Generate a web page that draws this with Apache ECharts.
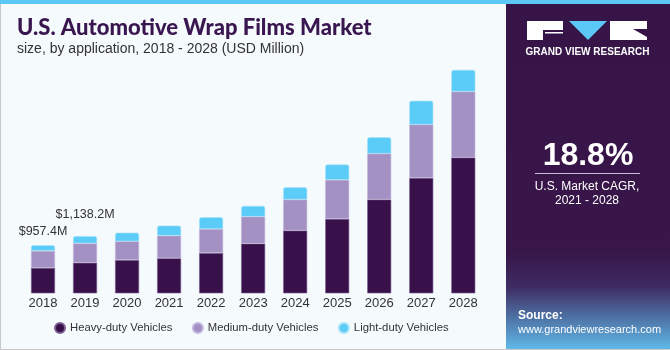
<!DOCTYPE html>
<html>
<head>
<meta charset="utf-8">
<script src="https://cdn.jsdelivr.net/npm/echarts@6/dist/echarts.min.js"></script>
<style>html,body{margin:0;padding:0;background:#f5fafd;}#c{width:670px;height:350px;}</style>
</head>
<body>
<div id="c"></div>
<script>
var years = ['2018','2019','2020','2021','2022','2023','2024','2025','2026','2027','2028'];
var heavyDuty  = [505, 608, 663, 697, 802, 989, 1248, 1481, 1865, 2296, 2700];
var mediumDuty = [338, 386, 372, 450, 478, 537, 617, 776, 915, 1061, 1313];
var lightDuty  = [114.4, 144.2, 171, 199, 233, 213, 245, 305, 325, 472, 432];
var valueLabels = ['$957.4M', '$1,138.2M', '', '', '', '', '', '', '', '', ''];
var seriesNames = ['Heavy-duty Vehicles', 'Medium-duty Vehicles', 'Light-duty Vehicles'];

var FONT = '"Liberation Sans", Arial, sans-serif';
var labelDistances = [7, 15];

var lightData = lightDuty.map(function (v, i) {
  if (!valueLabels[i]) return v;
  return {
    value: v,
    label: { show: true, position: 'top', distance: labelDistances[i] || 7, formatter: valueLabels[i],
             color: '#333', fontSize: 12.5, fontFamily: FONT }
  };
});

var chart = echarts.init(document.getElementById('c'));
var barCommon = { type: 'bar', stack: 'total', barWidth: 24 };
chart.setOption({
  backgroundColor: '#f5fafd',
  animation: false,
  grid: { left: 22, right: 185.7, top: 50, bottom: 56.7 },
  xAxis: {
    type: 'category', data: years,
    axisLine: { show: false }, axisTick: { show: false },
    axisLabel: { color: '#333', fontSize: 13, fontFamily: FONT, margin: 4 }
  },
  yAxis: { type: 'value', min: 0, max: 4840, show: false, splitLine: { show: false } },
  legend: {
    data: seriesNames, left: 54, top: 322, padding: 0, icon: 'circle', itemWidth: 10, itemHeight: 10, itemGap: 19.5,
    textStyle: { color: '#333', fontSize: 11.3, fontFamily: FONT }
  },
  series: [
    Object.assign({}, barCommon, { name: seriesNames[0], data: heavyDuty,
      itemStyle: { color: '#38104a', borderColor: '#7a5f92', borderWidth: 0.6 } }),
    Object.assign({}, barCommon, { name: seriesNames[1], data: mediumDuty,
      itemStyle: { color: '#a391c4', borderColor: '#c5b7dc', borderWidth: 0.6 } }),
    Object.assign({}, barCommon, { name: seriesNames[2], data: lightData,
      itemStyle: { color: '#5bcbf7', borderColor: '#a6e2fa', borderWidth: 0.6, borderRadius: [2, 2, 0, 0] } })
  ],
  graphic: [
    { type: 'rect', shape: { x: 0.5, y: 0.5, width: 669, height: 349 }, style: { fill: 'none', stroke: '#c8c8c8', lineWidth: 1 }, z: -1 },
    { type: 'rect', shape: { x: 0, y: 0, width: 670, height: 4 }, style: { fill: '#5bc8f5' } },
    { type: 'text', left: 17, top: 17, style: { text: 'U.S. Automotive Wrap Films Market', fill: '#3a1650', font: '900 22px Lato, "Liberation Sans", sans-serif' } },
    { type: 'text', left: 17, top: 42, style: { text: 'size, by application, 2018 - 2028 (USD Million)', fill: '#333', font: '14px ' + FONT } },
    { type: 'rect', shape: { x: 506, y: 4, width: 164, height: 345 },
      style: { fill: new echarts.graphic.LinearGradient(0, 0, 0, 1, [
        { offset: 0, color: '#371447' }, { offset: 0.72, color: '#381649' },
        { offset: 0.82, color: '#3e2c63' }, { offset: 1, color: '#5fb9e8' }]) } },
    { type: 'rect', shape: { x: 527, y: 21, width: 36, height: 19 }, style: { fill: '#ffffff' } },
    { type: 'rect', shape: { x: 543, y: 30, width: 20, height: 10 }, style: { fill: '#371447' } },
    { type: 'rect', shape: { x: 545, y: 32, width: 18, height: 1.5 }, style: { fill: '#ffffff' } },
    { type: 'polygon', shape: { points: [[569, 21], [607, 21], [588, 40]] }, style: { fill: '#5bc8f5' } },
    { type: 'rect', shape: { x: 610, y: 21, width: 37, height: 19 }, style: { fill: '#ffffff' } },
    { type: 'polygon', shape: { points: [[633, 29], [647, 29], [647, 37]] }, style: { fill: '#371447' } },
    { type: 'text', x: 587.5, y: 52, style: { text: 'GRAND VIEW RESEARCH', fill: '#ffffff', font: 'bold 10px ' + FONT, align: 'center', verticalAlign: 'middle' } },
    { type: 'text', x: 588, y: 156, style: { text: '18.8%', fill: '#ffffff', font: 'bold 32px ' + FONT, align: 'center', verticalAlign: 'middle' } },
    { type: 'rect', shape: { x: 535, y: 173, width: 105, height: 1 }, style: { fill: '#c9bcd6' } },
    { type: 'text', x: 587, y: 187, style: { text: 'U.S. Market CAGR,', fill: '#ffffff', font: '12px ' + FONT, align: 'center', verticalAlign: 'middle' } },
    { type: 'text', x: 587, y: 201, style: { text: '2021 - 2028', fill: '#ffffff', font: '12px ' + FONT, align: 'center', verticalAlign: 'middle' } },
    { type: 'text', x: 518, y: 316, style: { text: 'Source:', fill: '#ffffff', font: 'bold 12px ' + FONT, verticalAlign: 'middle' } },
    { type: 'text', x: 518, y: 330, style: { text: 'www.grandviewresearch.com', fill: '#ffffff', font: '11px ' + FONT, verticalAlign: 'middle' } }
  ]
});
</script>
</body>
</html>
